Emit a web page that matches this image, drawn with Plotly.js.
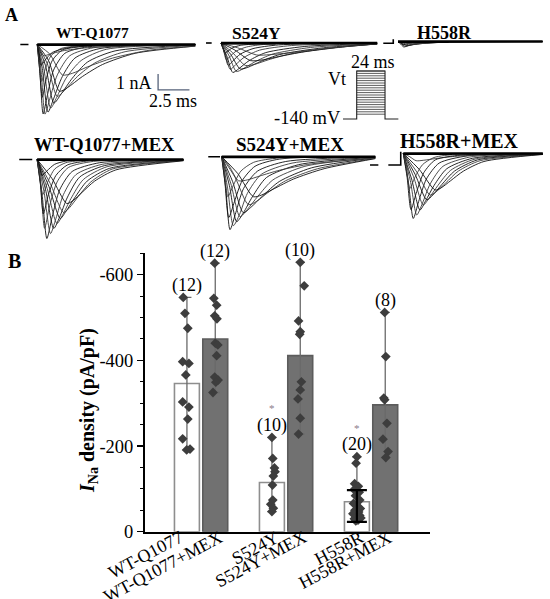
<!DOCTYPE html>
<html><head><meta charset="utf-8">
<script src="https://cdn.plot.ly/plotly-3.0.1.min.js"></script>
<style>html,body{margin:0;padding:0;background:#fff}#chart{width:550px;height:599px}</style>
</head><body><div id="chart"></div>
<script>
// ================= Panel B data =================
const groups = ['WT-Q1077', 'WT-Q1077+MEX', 'S524Y', 'S524Y+MEX', 'H558R', 'H558R+MEX'];
const barMean = [-346, -450, -115, -411, -70, -296];
const nCells = [12, 12, 10, 10, 20, 8];
const sigMark = ['', '', '*', '', '*', ''];

const ptsWT = [-547, -510, -475, -397, -393, -366, -303, -291, -263, -217, -191, -193];
const jitWT = [-0.13, -0.07, 0.03, -0.15, 0.07, -0.04, -0.15, 0.07, 0.03, -0.15, -0.01, 0.11];
const ptsWTMex = [-627, -545, -529, -504, -497, -440, -436, -411, -361, -354, -349, -325];
const jitWTMex = [-0.02, -0.05, 0.05, -0.02, 0.06, 0.0, 0.09, 0.05, -0.02, 0.1, 0.02, -0.08];
const ptsS = [-220, -171, -149, -140, -130, -109, -74, -64, -55, -47];
const jitS = [0.0, 0.03, 0.09, 0.11, 0.05, 0.02, 0.03, -0.04, 0.05, 0.0];
const ptsSMex = [-629, -574, -492, -467, -461, -350, -331, -310, -265, -228];
const jitSMex = [0.0, 0.14, -0.06, 0.0, -0.02, 0.04, 0.0, -0.08, 0.0, -0.06];
const ptsH = [-175, -160, -112, -106, -98, -92, -84, -74, -66, -58, -54, -50, -46, -42, -38, -35, -32, -30, -27, -25];
const jitH = [0, -0.03, -0.08, 0.05, -0.1, 0.08, -0.05, 0.1, -0.12, 0.03, 0.12, -0.07, 0.06, -0.14, 0.1, -0.02, 0.14, -0.09, 0.04, -0.04];
const ptsHMex = [-512, -409, -312, -308, -253, -216, -187, -173];
const jitHMex = [-0.02, 0.02, -0.05, -0.02, 0.06, -0.08, 0.1, 0.02];
const hSdTop = -97, hSdBottom = -23;   // black error bar on H558R

const yTickVals = [0, -200, -400, -600];
const yTickText = ['0', '-200', '-400', '-600'];

// ================= Panel A data (time ms, current nA) =================
const wtTime = [
 [0,0.22,0.47,0.8,1.3,2.2,4,12.6],
 [0,0.3,0.62,1.0,1.6,2.6,4.5,12.6],
 [0,0.4,0.86,1.3,2.0,3.0,5,12.6],
 [0,0.5,1.07,1.55,2.3,3.5,5.5,12.6],
 [0,0.65,1.33,1.9,2.8,4.0,6.2,12.6],
 [0,0.8,1.59,2.2,3.2,4.6,7,12.6],
 [0,0.9,1.77,2.4,3.6,5.2,7.8,12.6],
 [0,1.0,2.0,2.8,4,6,9,12.6],
 [0,0.18,0.4,0.7,1.2,2,4,12.6],
 [0,0.15,0.35,0.65,1.1,1.9,4,12.6],
 [0,0.15,0.3,0.6,1.2,2.5,5,12.6],
 [0,0.2,0.5,1.0,2.0,4,8,12.6]];
const wtCurr = [
 [0,-1.8,-4.34,-3.2,-1.6,-0.55,-0.15,0],
 [0,-1.6,-4.35,-3.4,-1.9,-0.7,-0.2,0],
 [0,-1.5,-4.22,-3.4,-2.0,-0.85,-0.25,0],
 [0,-1.4,-3.97,-3.3,-2.1,-1.0,-0.3,-0.02],
 [0,-1.3,-3.66,-3.1,-2.1,-1.1,-0.4,-0.03],
 [0,-1.2,-3.24,-2.85,-2.0,-1.15,-0.45,-0.05],
 [0,-1.0,-2.92,-2.7,-2.0,-1.25,-0.55,-0.1],
 [0,-0.6,-1.9,-1.8,-1.4,-0.85,-0.35,-0.1],
 [0,-1.5,-3.3,-2.2,-1.0,-0.35,-0.1,0],
 [0,-1.0,-2.3,-1.5,-0.7,-0.25,-0.05,0],
 [0,-0.6,-1.3,-1.0,-0.5,-0.2,-0.05,0],
 [0,-0.3,-0.7,-0.6,-0.4,-0.2,-0.06,0]];

const sTime = [
 [0,0.15,0.3,0.55,0.9,1.5,3,12.2],
 [0,0.2,0.42,0.75,1.2,2,3.5,12.2],
 [0,0.28,0.57,0.95,1.5,2.5,4.5,12.2],
 [0,0.36,0.72,1.15,1.8,3,5.5,12.2],
 [0,0.45,0.92,1.4,2.2,3.5,6.5,12.2],
 [0,0.6,1.2,1.7,2.6,4,7,12.2],
 [0,0.75,1.5,2.1,3.1,4.6,8,12.2],
 [0,0.9,1.9,2.6,3.7,5.4,9,12.2],
 [0,1.1,2.3,3.2,4.5,6.5,9.5,12.2],
 [0,1.3,2.8,3.8,5.5,7.5,10,12.2]];
const sCurr = [
 [0,-0.3,-0.65,-0.5,-0.3,-0.15,-0.05,0],
 [0,-0.45,-1.05,-0.8,-0.5,-0.25,-0.08,0],
 [0,-0.6,-1.4,-1.1,-0.7,-0.35,-0.12,0],
 [0,-0.75,-1.65,-1.35,-0.9,-0.45,-0.16,0],
 [0,-0.8,-1.84,-1.6,-1.1,-0.6,-0.22,-0.02],
 [0,-0.75,-1.78,-1.62,-1.2,-0.7,-0.28,-0.04],
 [0,-0.7,-1.62,-1.52,-1.15,-0.72,-0.3,-0.06],
 [0,-0.6,-1.4,-1.34,-1.05,-0.68,-0.28,-0.06],
 [0,-0.45,-1.1,-1.06,-0.85,-0.55,-0.25,-0.06],
 [0,-0.3,-0.75,-0.73,-0.6,-0.4,-0.2,-0.05]];

const hTime = [
 [0,0.2,0.45,0.8,1.3,2.2,4,11.3],
 [0,0.25,0.55,0.9,1.5,2.5,4.5,11.3],
 [0,0.3,0.65,1.05,1.7,2.8,5,11.3],
 [0,0.35,0.8,1.25,2.0,3.2,5.5,11.3],
 [0,0.2,0.4,0.7,1.2,2,4,11.3],
 [0,0.45,1.0,1.5,2.3,3.6,6,11.3]];
const hCurr = [
 [0,-0.15,-0.34,-0.26,-0.15,-0.07,-0.02,0],
 [0,-0.13,-0.3,-0.24,-0.15,-0.07,-0.02,0],
 [0,-0.1,-0.25,-0.21,-0.14,-0.07,-0.02,0],
 [0,-0.08,-0.2,-0.18,-0.12,-0.06,-0.02,0],
 [0,-0.08,-0.2,-0.14,-0.08,-0.03,-0.01,0],
 [0,-0.05,-0.13,-0.12,-0.09,-0.05,-0.02,0]];

const wtMexTime = [
 [0,0.4,0.78,1.2,1.8,2.8,5,11.7],
 [0,0.55,1.07,1.5,2.1,3.1,5.2,11.7],
 [0,0.68,1.33,1.8,2.4,3.4,5.4,11.7],
 [0,0.8,1.59,2.05,2.7,3.7,5.6,11.7],
 [0,0.95,1.85,2.3,3.0,4.0,5.8,11.7],
 [0,1.05,2.11,2.6,3.3,4.3,6,11.7],
 [0,1.2,2.37,2.9,3.6,4.6,6.3,11.7],
 [0,0.3,0.6,1.0,1.6,2.5,4.5,11.7],
 [0,0.25,0.5,0.9,1.5,2.4,4.2,11.7],
 [0,0.2,0.45,0.85,1.4,2.3,4,11.7],
 [0,0.2,0.4,0.8,1.4,2.3,4,11.7]];
const wtMexCurr = [
 [0,-2.2,-4.94,-3.6,-1.9,-0.75,-0.2,0],
 [0,-2.0,-4.63,-3.7,-2.2,-0.95,-0.3,-0.02],
 [0,-1.9,-4.31,-3.6,-2.4,-1.1,-0.38,-0.03],
 [0,-1.8,-4.0,-3.45,-2.45,-1.25,-0.45,-0.04],
 [0,-1.7,-3.69,-3.25,-2.4,-1.35,-0.55,-0.05],
 [0,-1.5,-3.31,-3.0,-2.3,-1.4,-0.6,-0.06],
 [0,-1.2,-2.75,-2.55,-2.05,-1.35,-0.65,-0.08],
 [0,-1.8,-4.3,-2.9,-1.4,-0.5,-0.12,0],
 [0,-1.4,-3.4,-2.2,-1.0,-0.35,-0.08,0],
 [0,-0.9,-2.2,-1.4,-0.6,-0.2,-0.05,0],
 [0,-0.4,-1.0,-0.7,-0.3,-0.1,-0.03,0]];

const sMexTime = [
 [0,0.32,0.65,1.1,1.7,2.8,5,12],
 [0,0.45,0.91,1.4,2.0,3.1,5.5,12],
 [0,0.6,1.17,1.7,2.4,3.5,6,12],
 [0,0.72,1.43,2.0,2.8,4,6.5,12],
 [0,0.85,1.69,2.3,3.2,4.5,7,12],
 [0,1.05,2.08,2.7,3.6,5,7.5,12],
 [0,1.25,2.47,3.1,4.1,5.6,8,12],
 [0,0.6,1.3,2.0,3.0,4.5,7,12],
 [0,0.25,0.55,1.0,1.6,2.6,4.5,12],
 [0,0.22,0.48,0.9,1.5,2.5,4.5,12]];
const sMexCurr = [
 [0,-2.0,-4.56,-3.5,-2.0,-0.9,-0.3,0],
 [0,-1.9,-4.31,-3.6,-2.3,-1.1,-0.4,-0.02],
 [0,-1.8,-4.06,-3.5,-2.5,-1.3,-0.5,-0.03],
 [0,-1.7,-3.75,-3.3,-2.5,-1.45,-0.6,-0.05],
 [0,-1.55,-3.5,-3.15,-2.45,-1.55,-0.7,-0.07],
 [0,-1.3,-3.0,-2.8,-2.25,-1.5,-0.75,-0.1],
 [0,-1.05,-2.5,-2.4,-2.0,-1.4,-0.75,-0.12],
 [0,-0.6,-1.5,-1.45,-1.2,-0.85,-0.45,-0.08],
 [0,-1.6,-3.8,-2.8,-1.5,-0.6,-0.15,0],
 [0,-1.0,-2.5,-1.8,-0.9,-0.35,-0.08,0]];

const hMexTime = [
 [0,0.4,0.78,1.2,1.8,2.8,5,10.9],
 [0,0.55,1.05,1.5,2.1,3.1,5.2,10.9],
 [0,0.65,1.3,1.75,2.4,3.4,5.4,10.9],
 [0,0.8,1.56,2.0,2.7,3.7,5.6,10.9],
 [0,0.92,1.83,2.3,3.0,4.0,5.8,10.9],
 [0,1.05,2.09,2.55,3.3,4.3,6,10.9],
 [0,1.25,2.48,2.95,3.7,4.7,6.3,10.9],
 [0,0.5,1.0,1.6,2.5,4,6.5,10.9],
 [0,0.3,0.6,1.0,1.6,2.5,4.5,10.9],
 [0,0.25,0.5,0.9,1.5,2.4,4.2,10.9]];
const hMexCurr = [
 [0,-1.8,-4.06,-3.0,-1.6,-0.6,-0.15,0],
 [0,-1.7,-3.84,-3.1,-1.9,-0.8,-0.22,0],
 [0,-1.6,-3.53,-2.95,-2.0,-0.95,-0.3,-0.02],
 [0,-1.45,-3.22,-2.8,-2.0,-1.05,-0.35,-0.03],
 [0,-1.3,-2.9,-2.6,-1.95,-1.1,-0.4,-0.04],
 [0,-1.15,-2.6,-2.4,-1.85,-1.1,-0.45,-0.05],
 [0,-1.0,-2.28,-2.15,-1.7,-1.1,-0.5,-0.06],
 [0,-0.2,-0.45,-0.42,-0.32,-0.18,-0.07,0],
 [0,-1.5,-3.5,-2.5,-1.2,-0.4,-0.1,0],
 [0,-0.9,-2.2,-1.5,-0.7,-0.25,-0.05,0]];

// holding segments before each sweep (ms, nA)
const preWT = {t: [-1.35, -0.7], i: [0, 0]};
const preS = {t: [-1.17, -0.73], i: [0, 0]};
const preH = {t: [-1.15, -0.37, -0.37], i: [-0.11, -0.11, 0.14]};
const preWTMex = {t: [-1.43, -0.39], i: [0, 0]};
const preSMex = {t: [-1.05, -0.13], i: [0, 0]};
const preHMex = {t: [-2.6, -1.95, null, -1.17, -0.2, -0.2], i: [-0.72, -0.72, null, -0.72, -0.72, 0.11]};

// voltage protocol
const holdingMv = -140;
const stepMv = [-120, -110, -100, -90, -80, -70, -60, -50, -40, -30, -20, -10, 0, 10, 20, 30, 40, 50, 60];
const stepMs = 24;
const scaleBarNa = 1, scaleBarMs = 2.5;

// ================= Build =================
const W = 550, H = 599;
const SERIF = 'Liberation Serif, Times New Roman, serif';
const PXMS = 12.8, PXNA = 16;
const px = v => v / W, py = v => 1 - v / H;

const panels = [
  {title: 'WT-Q1077', fs: 15.5, tx: 92, ty: 32, x0: 34, y0: 44.5, t: wtTime, c: wtCurr, pre: preWT},
  {title: 'S524Y', fs: 17.5, tx: 256, ty: 32.5, x0: 221, y0: 43, t: sTime, c: sCurr, pre: preS},
  {title: 'H558R', fs: 18, tx: 444, ty: 32.5, x0: 398, y0: 41.5, t: hTime, c: hCurr, pre: preH},
  {title: 'WT-Q1077+MEX', fs: 18.5, tx: 104, ty: 145, x0: 33.3, y0: 159.5, t: wtMexTime, c: wtMexCurr, pre: preWTMex},
  {title: 'S524Y+MEX', fs: 19, tx: 290, ty: 144.5, x0: 221.7, y0: 156.7, t: sMexTime, c: sMexCurr, pre: preSMex},
  {title: 'H558R+MEX', fs: 20, tx: 459, ty: 141, x0: 403.3, y0: 153.5, t: hMexTime, c: hMexCurr, pre: preHMex}
];

const data = [];
const layout = {
  width: W, height: H, margin: {l: 0, r: 0, t: 0, b: 0},
  paper_bgcolor: '#fff', plot_bgcolor: 'rgba(0,0,0,0)',
  showlegend: false, font: {family: SERIF, color: '#000', size: 18},
  annotations: []
};

panels.forEach((p, idx) => {
  const k = idx + 2;
  const left = p.x0 - 38, right = Math.min(p.x0 + 165, W - 1);
  const top = p.y0 - 14, bottom = p.y0 + 88;
  layout['xaxis' + k] = {domain: [px(left), px(right)], range: [(left - p.x0) / PXMS, (right - p.x0) / PXMS],
    visible: false, anchor: 'y' + k, fixedrange: true};
  layout['yaxis' + k] = {domain: [py(bottom), py(top)], range: [-(bottom - p.y0) / PXNA, (p.y0 - top) / PXNA],
    visible: false, anchor: 'x' + k, fixedrange: true};
  const ax = {xaxis: 'x' + k, yaxis: 'y' + k, hoverinfo: 'skip', type: 'scatter', mode: 'lines'};
  p.t.forEach((tt, j) => {
    data.push(Object.assign({}, ax, {x: tt, y: p.c[j],
      line: {color: j % 2 ? '#3a3a3a' : '#111', width: 0.9, shape: 'spline', smoothing: 0.7}}));
  });
  const tEnd = p.t[0][p.t[0].length - 1];
  data.push(Object.assign({}, ax, {x: [0, tEnd], y: [0, 0], line: {color: '#000', width: 2.6}}));
  data.push(Object.assign({}, ax, {x: [0, tEnd * 0.35], y: [-0.03, -0.03], line: {color: '#000', width: 2}}));
  data.push(Object.assign({}, ax, {x: p.pre.t, y: p.pre.i, line: {color: '#000', width: 1.6}, connectgaps: false}));
  layout.annotations.push({xref: 'paper', yref: 'paper', x: px(p.tx), y: py(p.ty), xanchor: 'center', yanchor: 'middle',
    text: '<b>' + p.title + '</b>', showarrow: false, font: {family: SERIF, size: p.fs, color: '#000'}});
});

// scale bar on WT panel (axis 2)
const sbX = 9.63, sbY = -1.84;
data.push({type: 'scatter', mode: 'lines', xaxis: 'x2', yaxis: 'y2', hoverinfo: 'skip',
  x: [sbX, sbX, sbX + scaleBarMs], y: [sbY, sbY - scaleBarNa, sbY - scaleBarNa], line: {color: '#56627a', width: 1.3}});
layout.annotations.push({xref: 'x2', yref: 'y2', x: sbX - 0.3, y: sbY - scaleBarNa / 2 - 0.05, xanchor: 'right', yanchor: 'middle',
  text: scaleBarNa + ' nA', showarrow: false, font: {family: SERIF, size: 18}});
layout.annotations.push({xref: 'x2', yref: 'y2', x: sbX + scaleBarMs / 2 - 0.1, y: sbY - scaleBarNa - 0.72, xanchor: 'center', yanchor: 'middle',
  text: scaleBarMs + ' ms', showarrow: false, font: {family: SERIF, size: 18}});

// voltage protocol (axis 8)
const PROTO_X0 = 356.7, PX_PER_MS_P = 1.18, PROTO_Y0 = 119, PX_PER_MV = 0.24;
const pl = 300, pr = 410, pt = 55, pb = 128;
layout.xaxis8 = {domain: [px(pl), px(pr)], range: [(pl - PROTO_X0) / PX_PER_MS_P, (pr - PROTO_X0) / PX_PER_MS_P], visible: false, anchor: 'y8', fixedrange: true};
layout.yaxis8 = {domain: [py(pb), py(pt)], range: [holdingMv - (pb - PROTO_Y0) / PX_PER_MV, holdingMv + (PROTO_Y0 - pt) / PX_PER_MV], visible: false, anchor: 'x8', fixedrange: true};
const topMv = stepMv[stepMv.length - 1];
const stepX = [], stepY = [];
stepMv.forEach(v => { stepX.push(0, stepMs, null); stepY.push(v, v, null); });
data.push({type: 'scatter', mode: 'lines', xaxis: 'x8', yaxis: 'y8', hoverinfo: 'skip', x: stepX, y: stepY,
  line: {color: '#333', width: 0.8}, connectgaps: false});
data.push({type: 'scatter', mode: 'lines', xaxis: 'x8', yaxis: 'y8', hoverinfo: 'skip',
  x: [-11.6, 0, 0, stepMs, stepMs, stepMs + 11.3], y: [holdingMv, holdingMv, topMv, topMv, holdingMv, holdingMv],
  line: {color: '#222', width: 1.1}});
layout.annotations.push({xref: 'x8', yref: 'y8', x: 13.8, y: topMv + 36, xanchor: 'center', yanchor: 'middle',
  text: stepMs + ' ms', showarrow: false, font: {family: SERIF, size: 18}});
layout.annotations.push({xref: 'x8', yref: 'y8', x: -16.7, y: topMv - 33, xanchor: 'center', yanchor: 'middle',
  text: 'Vt', showarrow: false, font: {family: SERIF, size: 18}});
layout.annotations.push({xref: 'x8', yref: 'y8', x: -11.4, y: holdingMv + 3, xanchor: 'right', yanchor: 'middle',
  text: holdingMv + ' mV', showarrow: false, font: {family: SERIF, size: 18.5}});

// ---- Panel B ----
const barPos = [0, 1, 3, 4, 6, 7];
const pts = [ptsWT, ptsWTMex, ptsS, ptsSMex, ptsH, ptsHMex];
const jit = [jitWT, jitWTMex, jitS, jitSMex, jitH, jitHMex];
const errPlus = pts.map((p, g) => Math.max(...p) - barMean[g]);
const errMinus = pts.map((p, g) => barMean[g] - Math.min(...p));

data.push({type: 'bar', x: barPos, y: barMean, width: 0.88, hoverinfo: 'skip',
  marker: {color: barPos.map((_, g) => g % 2 ? '#717171' : '#ffffff'),
           line: {color: barPos.map((_, g) => g % 2 ? '#5c5c5c' : '#8e8e8e'), width: 1.6}},
  error_y: {type: 'data', symmetric: false, array: errPlus, arrayminus: errMinus, color: '#6a6a6a', thickness: 1.3, width: 4.5}});
pts.forEach((p, g) => {
  data.push({type: 'scatter', mode: 'markers', x: p.map((_, i) => barPos[g] + jit[g][i]), y: p, hoverinfo: 'skip',
    marker: {symbol: 'diamond', size: 7.5, color: '#3d3d3d'}});
});
// black error bar on H558R
const hMean = barMean[4];
data.push({type: 'scatter', mode: 'markers', x: [barPos[4]], y: [hMean], hoverinfo: 'skip', marker: {size: 1, color: 'rgba(0,0,0,0)'},
  error_y: {type: 'data', symmetric: false, array: [hSdBottom - hMean], arrayminus: [hMean - hSdTop], color: '#000', thickness: 2.2, width: 10}});

layout.xaxis = {domain: [px(145), px(430)], range: [-1.48, 8.58], tickmode: 'array', tickvals: barPos, showticklabels: false,
  ticks: '', showline: true, linecolor: '#000', linewidth: 2, showgrid: false, zeroline: false,
  anchor: 'y', automargin: false, fixedrange: true};
layout.yaxis = {domain: [py(531.7), py(253.3)], range: [0, -650], tickmode: 'array', tickvals: yTickVals, ticktext: yTickText,
  ticks: 'outside', ticklen: 6, tickwidth: 1.2, tickcolor: '#000', showline: true, linecolor: '#000', linewidth: 2,
  showgrid: false, zeroline: false, tickfont: {family: SERIF, size: 18.5, color: '#000'}, anchor: 'x', automargin: false,
  minor: {tickmode: 'linear', tick0: 0, dtick: 50, ticks: 'outside', ticklen: 3, tickwidth: 1, tickcolor: '#000'}, fixedrange: true};

// category labels, rotated, hanging below the axis
groups.forEach((name, g) => {
  layout.annotations.push({xref: 'x', yref: 'y', x: barPos[g], y: 0, xshift: g === 0 ? 0 : 11, yshift: 6,
    xanchor: 'right', yanchor: 'top', textangle: -28, text: name, showarrow: false, borderpad: 0,
    font: {family: SERIF, size: 18, color: '#000'}});
});

pts.forEach((p, g) => {
  layout.annotations.push({xref: 'x', yref: 'y', x: barPos[g], y: Math.min(...p), yshift: 12, xanchor: 'center', yanchor: 'middle',
    text: '(' + nCells[g] + ')', showarrow: false, font: {family: SERIF, size: 18, color: '#000'}});
  if (sigMark[g]) layout.annotations.push({xref: 'x', yref: 'y', x: barPos[g], y: Math.min(...p), yshift: 29, xanchor: 'center', yanchor: 'middle',
    text: sigMark[g], showarrow: false, font: {family: SERIF, size: 11, color: '#8a7a8a'}});
});

layout.annotations.push({xref: 'paper', yref: 'paper', x: px(88), y: py(411), xanchor: 'center', yanchor: 'middle', textangle: -90,
  text: '<b><i>I</i><sub>Na</sub> density (pA/pF)</b>', showarrow: false, font: {family: SERIF, size: 20, color: '#000'}});
layout.annotations.push({xref: 'paper', yref: 'paper', x: px(11), y: py(15), xanchor: 'center', yanchor: 'middle',
  text: '<b>A</b>', showarrow: false, font: {family: SERIF, size: 18}});
layout.annotations.push({xref: 'paper', yref: 'paper', x: px(14), y: py(261), xanchor: 'center', yanchor: 'middle',
  text: '<b>B</b>', showarrow: false, font: {family: SERIF, size: 20}});

Plotly.newPlot('chart', data, layout, {staticPlot: true, displayModeBar: false});
</script></body></html>
